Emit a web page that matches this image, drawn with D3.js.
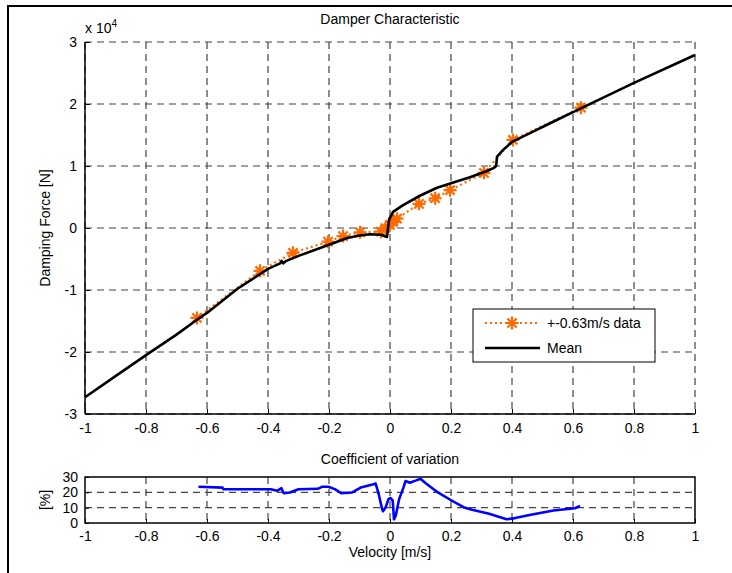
<!DOCTYPE html>
<html>
<head>
<meta charset="utf-8">
<script src="https://cdn.jsdelivr.net/npm/d3@7"></script>
<style>
  html, body { margin: 0; padding: 0; background: #fff; }
  svg { display: block; font-family: "Liberation Sans", Arial, Helvetica, sans-serif; }
  .tick text { font-size: 14px; fill: #000; }
</style>
</head>
<body>
<svg id="chart" width="732" height="573"></svg>
<script>
// Mean damping curve (velocity m/s, force in units of 1e4 N)
const meanVel = [-1.0, -0.9, -0.8, -0.7, -0.633, -0.6, -0.5, -0.45, -0.4, -0.36, -0.355, -0.35, -0.34, -0.3, -0.2, -0.14, -0.1, -0.066, -0.03, -0.01,
                 -0.003, 0.01, 0.043, 0.098, 0.154, 0.2, 0.262, 0.318, 0.341, 0.348, 0.351, 0.371, 0.4, 0.459, 0.525, 0.6, 0.8, 1.0];
const meanForce = [-2.73, -2.39, -2.05, -1.72, -1.48, -1.37, -0.98, -0.82, -0.66, -0.57, -0.53, -0.57, -0.53, -0.45, -0.27, -0.16, -0.12, -0.10, -0.11, -0.145,
                   0.13, 0.26, 0.37, 0.52, 0.65, 0.72, 0.82, 0.92, 0.97, 1.0, 1.15, 1.26, 1.39, 1.53, 1.69, 1.87, 2.34, 2.79];

// Measured points of the +-0.63 m/s run
const dataVel = [-0.633, -0.426, -0.318, -0.203, -0.154, -0.098, -0.03, -0.015, 0.0, 0.01, 0.023, 0.095, 0.148, 0.197, 0.308, 0.403, 0.626];
const dataForce = [-1.45, -0.69, -0.40, -0.22, -0.13, -0.07, -0.06, 0.0, 0.05, 0.1, 0.15, 0.39, 0.48, 0.61, 0.89, 1.42, 1.94];

// Coefficient of variation (%) over velocity
const cvVel = [-0.628, -0.549, -0.546, -0.391, -0.37, -0.356, -0.349, -0.328, -0.3, -0.237, -0.223, -0.202, -0.181, -0.16, -0.124, -0.096, -0.054, -0.047,
               -0.037, -0.026, -0.023, -0.014, -0.005, 0.002, 0.009, 0.013, 0.019, 0.03, 0.044, 0.051, 0.065, 0.086, 0.1, 0.115, 0.157, 0.199, 0.241, 0.269,
               0.325, 0.382, 0.41, 0.466, 0.536, 0.606, 0.623];
const cvValue = [23.6, 23.1, 22.0, 22.0, 21.0, 22.7, 19.5, 19.9, 22.0, 22.3, 23.6, 23.6, 22.1, 19.5, 19.9, 23.1, 25.3, 25.7,
                 18.8, 9.2, 7.7, 10.3, 15.6, 16.3, 14.6, 2.4, 4.9, 15.6, 23.1, 27.4, 26.3, 27.8, 28.9, 26.3, 19.9, 15.0, 10.3, 8.6,
                 6.0, 2.4, 3.2, 5.6, 8.1, 9.6, 11.1];

const xTicks = [-1, -0.8, -0.6, -0.4, -0.2, 0, 0.2, 0.4, 0.6, 0.8, 1];
const forceTicks = [-3, -2, -1, 0, 1, 2, 3];
const cvTicks = [0, 10, 20, 30];

const legendLabels = ["+-0.63m/s data", "Mean"];

const orange = "#ff6a00";
const gridColor = "#444";
const gridDash = "7,5";

const svg = d3.select("#chart");

// Figure frame
svg.append("path").attr("d", "M8,573V6H732").attr("fill", "none").attr("stroke", "#000").attr("stroke-width", 2);

const fmt = d => (d === 0 ? "0" : String(d));

// ---------- upper axes ----------
const ax1 = { left: 85, right: 695, top: 42, bottom: 414 };
const x1 = d3.scaleLinear().domain([-1, 1]).range([ax1.left, ax1.right]);
const y1 = d3.scaleLinear().domain([-3, 3]).range([ax1.bottom, ax1.top]);

const g1 = svg.append("g");

// grid
g1.append("g").selectAll("line").data(xTicks).join("line")
  .attr("x1", d => x1(d)).attr("x2", d => x1(d)).attr("y1", ax1.top).attr("y2", ax1.bottom)
  .attr("stroke", gridColor).attr("stroke-dasharray", gridDash).attr("stroke-width", 1.2);
g1.append("g").selectAll("line").data(forceTicks).join("line")
  .attr("x1", ax1.left).attr("x2", ax1.right).attr("y1", d => y1(d)).attr("y2", d => y1(d))
  .attr("stroke", gridColor).attr("stroke-dasharray", gridDash).attr("stroke-width", 1.2);

// axes (left and bottom only)
const xAxis1 = d3.axisBottom(x1).tickValues(xTicks).tickFormat(fmt).tickSize(-5).tickPadding(9);
const yAxis1 = d3.axisLeft(y1).tickValues(forceTicks).tickFormat(fmt).tickSize(-5).tickPadding(8);
g1.append("g").attr("transform", `translate(0,${ax1.bottom})`).call(xAxis1)
  .call(g => g.select(".domain").attr("d", `M${ax1.left},0H${ax1.right}`).attr("stroke-width", 1.5));
g1.append("g").attr("transform", `translate(${ax1.left},0)`).call(yAxis1)
  .call(g => g.select(".domain").attr("d", `M0,${ax1.bottom}V${ax1.top}`).attr("stroke-width", 1.5));

// exponent label
const expo = g1.append("text").attr("x", ax1.left).attr("y", 33).attr("font-size", 14).attr("fill", "#000");
expo.append("tspan").text("x 10");
expo.append("tspan").attr("dy", -6).attr("font-size", 10).text("4");

// title and y label
g1.append("text").attr("x", (ax1.left + ax1.right) / 2).attr("y", 24).attr("text-anchor", "middle")
  .attr("font-size", 14).text("Damper Characteristic");
g1.append("text").attr("transform", `translate(50,${(ax1.top + ax1.bottom) / 2}) rotate(-90)`)
  .attr("text-anchor", "middle").attr("font-size", 14).text("Damping Force [N]");

// measured data: dotted line with asterisk markers
const dataPts = dataVel.map((v, i) => [v, dataForce[i]]);
g1.append("path").datum(dataPts)
  .attr("d", d3.line().x(d => x1(d[0])).y(d => y1(d[1])))
  .attr("fill", "none").attr("stroke", orange).attr("stroke-width", 2.2).attr("stroke-dasharray", "2,3");

function asterisk(sel, cx, cy, r) {
  const a = r * Math.SQRT1_2;
  sel.append("path")
    .attr("d", `M${cx - r},${cy}H${cx + r}M${cx},${cy - r}V${cy + r}M${cx - a},${cy - a}L${cx + a},${cy + a}M${cx - a},${cy + a}L${cx + a},${cy - a}`)
    .attr("stroke", orange).attr("stroke-width", 2.2).attr("fill", "none");
}
const markers = g1.append("g");
dataPts.forEach(d => asterisk(markers, x1(d[0]), y1(d[1]), 6.5));

// mean curve
const meanPts = meanVel.map((v, i) => [v, meanForce[i]]);
g1.append("path").datum(meanPts)
  .attr("d", d3.line().x(d => x1(d[0])).y(d => y1(d[1])))
  .attr("fill", "none").attr("stroke", "#000").attr("stroke-width", 2.6).attr("stroke-linejoin", "round");

// legend
const lg = g1.append("g");
lg.append("rect").attr("x", 473).attr("y", 309).attr("width", 182).attr("height", 53)
  .attr("fill", "#fff").attr("stroke", "#000").attr("stroke-width", 1);
lg.append("line").attr("x1", 485).attr("x2", 540).attr("y1", 323).attr("y2", 323)
  .attr("stroke", orange).attr("stroke-width", 2.2).attr("stroke-dasharray", "2,3");
asterisk(lg, 512, 323, 6.5);
lg.append("line").attr("x1", 485).attr("x2", 540).attr("y1", 348).attr("y2", 348)
  .attr("stroke", "#000").attr("stroke-width", 2.6);
lg.selectAll("text.lbl").data(legendLabels).join("text").attr("class", "lbl")
  .attr("x", 547).attr("y", (d, i) => 328 + i * 25).attr("font-size", 14).text(d => d);

// ---------- lower axes ----------
const ax2 = { left: 85, right: 695, top: 477, bottom: 523 };
const x2 = d3.scaleLinear().domain([-1, 1]).range([ax2.left, ax2.right]);
const y2 = d3.scaleLinear().domain([0, 30]).range([ax2.bottom, ax2.top]);
const g2 = svg.append("g");

g2.append("g").selectAll("line").data(xTicks.slice(1, -1)).join("line")
  .attr("x1", d => x2(d)).attr("x2", d => x2(d)).attr("y1", ax2.top).attr("y2", ax2.bottom)
  .attr("stroke", gridColor).attr("stroke-dasharray", gridDash).attr("stroke-width", 1.2);
g2.append("g").selectAll("line").data(cvTicks.slice(1, -1)).join("line")
  .attr("x1", ax2.left).attr("x2", ax2.right).attr("y1", d => y2(d)).attr("y2", d => y2(d))
  .attr("stroke", gridColor).attr("stroke-dasharray", gridDash).attr("stroke-width", 1.2);

const xAxis2 = d3.axisBottom(x2).tickValues(xTicks).tickFormat(fmt).tickSize(-4).tickPadding(8);
const yAxis2 = d3.axisLeft(y2).tickValues(cvTicks).tickFormat(fmt).tickSize(-4).tickPadding(7);
g2.append("g").attr("transform", `translate(0,${ax2.bottom})`).call(xAxis2)
  .call(g => g.select(".domain").remove());
g2.append("g").attr("transform", `translate(${ax2.left},0)`).call(yAxis2)
  .call(g => g.select(".domain").remove());
g2.append("rect").attr("x", ax2.left).attr("y", ax2.top).attr("width", ax2.right - ax2.left).attr("height", ax2.bottom - ax2.top)
  .attr("fill", "none").attr("stroke", "#000").attr("stroke-width", 1.5);

const cvPts = cvVel.map((v, i) => [v, cvValue[i]]);
g2.append("path").datum(cvPts)
  .attr("d", d3.line().x(d => x2(d[0])).y(d => y2(d[1])))
  .attr("fill", "none").attr("stroke", "#0000ff").attr("stroke-width", 2.6).attr("stroke-linejoin", "round");

g2.append("text").attr("x", (ax2.left + ax2.right) / 2).attr("y", 464).attr("text-anchor", "middle")
  .attr("font-size", 14).text("Coefficient of variation");
g2.append("text").attr("x", (ax2.left + ax2.right) / 2).attr("y", 557).attr("text-anchor", "middle")
  .attr("font-size", 14).text("Velocity [m/s]");
g2.append("text").attr("transform", `translate(50,${(ax2.top + ax2.bottom) / 2}) rotate(-90)`)
  .attr("text-anchor", "middle").attr("font-size", 14).text("[%]");
</script>
</body>
</html>
